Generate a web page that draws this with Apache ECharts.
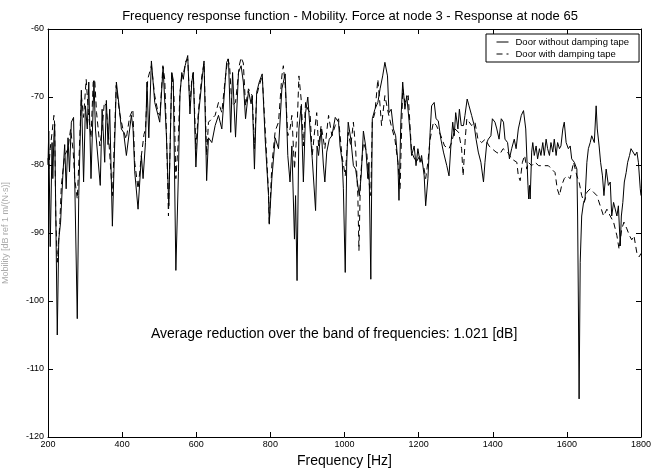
<!DOCTYPE html>
<html><head><meta charset="utf-8">
<script src="https://cdn.jsdelivr.net/npm/echarts@6/dist/echarts.min.js"></script>
<style>html,body{margin:0;padding:0;background:#fff}#c{width:652px;height:469px}</style>
</head><body><div id="c"></div>
<script>
const xTicks = [200, 400, 600, 800, 1000, 1200, 1400, 1600, 1800];
const yTicks = [-120, -110, -100, -90, -80, -70, -60];
const seriesNames = ['Door without damping tape', 'Door with damping tape'];

const solidHz = [200,202,206,211,213,216,218,225,229,234,240,245,249,254,258,263,269,279,283,290,296,301,306,310,316,324,328,341,346,353,357.5,362,366.5,373.7,378,384.5,391.7,398,404,411.5,425,429.5,434,443,452,456.5,463,467,472,479,488,497,501.5,510.5,519.5,526,534,538,545,552,556,561,565,570,577,583,588,592,599,606,615,621,628,633,642,651,660,669,678,682,687,693,698,706,714,721,727,733,741,748,751,757,763,770,778,786,795,797,804,813,822,831,840,847,853,858,865,868,872,877,883,889,895,901,907,913,917,922,926,930,937,943,947,952,959,966,975,984,988,994,997,1002,1006,1010,1017,1024,1030,1036,1040,1045,1051,1057,1063,1066,1071,1075,1082,1090,1096,1103,1109,1116,1120,1126,1132,1138,1144,1147,1152,1157,1163,1168,1172,1177,1181,1188,1193,1198,1204,1208,1215,1219,1225,1231,1235,1242,1247,1253,1260,1267,1276,1282,1287,1292,1296,1300,1306,1310,1315,1321,1325,1331,1336,1343,1350,1355,1361,1368,1375,1379,1384,1388,1395,1399,1406,1411,1417,1423,1429,1433,1440,1445,1451,1458,1463,1469,1477,1483,1489,1495,1497,1499,1501,1505,1508,1512,1517,1521,1526,1530,1535,1539,1544,1548,1553,1557,1562,1566,1571,1575,1580,1584,1589,1593,1598,1604,1609,1613,1620,1627,1629,1631,1633,1636,1640,1645,1649,1654,1658,1663,1667,1674,1679,1682,1687,1691,1696,1700,1706,1712,1717,1721,1726,1730,1735,1739,1744,1747,1751,1755,1760,1764,1769,1773,1778,1784,1789,1793,1798,1800];
const solidDb = [-80,-75,-92,-76.7,-82,-75.7,-74,-105,-91,-88.4,-81.6,-77,-83.5,-76,-81,-73.7,-73,-102.6,-84.5,-69,-82.5,-71.3,-74.7,-67.8,-82,-67.6,-74.7,-83,-71.8,-79.6,-70.5,-77,-71.8,-89,-80.6,-67.8,-71.3,-74.7,-75.2,-78.6,-72.7,-74.7,-81,-86.5,-78.6,-82,-76.7,-67.8,-76,-64.7,-70.8,-72.7,-73.7,-65.6,-75.7,-86,-66.4,-67.5,-95.5,-81,-69.8,-66.4,-67.4,-65.4,-63.9,-72.5,-67.8,-66.4,-80.3,-72.7,-67.8,-64.7,-82.3,-76,-76.7,-74.2,-72.7,-74.7,-67.8,-64.9,-64.4,-75.2,-66.4,-75.9,-66.4,-65.4,-67.8,-73.2,-69.1,-71,-69.8,-80.6,-69.3,-67.8,-66.6,-76.2,-84.5,-88.7,-82,-76,-77.6,-68.8,-66.6,-78.6,-82.5,-77.2,-90.9,-84.5,-97,-74.7,-71.3,-82.5,-72.3,-70,-74.7,-79.1,-82.5,-86.7,-77.2,-78.6,-74.7,-80,-82.5,-78.1,-76.2,-75.7,-73,-73.7,-77.2,-79.6,-83.5,-95.8,-79.6,-73.7,-76.2,-80.1,-80.6,-83,-84.5,-81.6,-75,-77.2,-82,-79.6,-96.8,-73.2,-71.8,-70.8,-68.8,-66.9,-64.9,-66.9,-72.3,-71.8,-74.7,-75.7,-79.6,-85.2,-73.7,-67.8,-71.8,-69.8,-69.6,-75.2,-78.6,-77.2,-80.1,-77.6,-79.6,-78.6,-81.6,-86,-82,-75.2,-71.3,-70.8,-73.2,-73.5,-76.2,-78.1,-80.1,-81.6,-77.2,-73.7,-75.7,-72.3,-74.7,-71.8,-74.2,-74.2,-72.7,-70.3,-71.3,-72.7,-74.2,-76.2,-78.1,-79.6,-82.5,-79.6,-76.7,-76.2,-75.7,-73.2,-73.7,-74.7,-76.2,-73.2,-73.7,-76.2,-76.7,-79.1,-77.6,-76.2,-77.6,-74.7,-72.7,-72,-74.7,-83,-85,-83,-85,-78.1,-76.7,-78.6,-77.2,-79.1,-77.6,-78.6,-76.7,-78.6,-76.2,-77.6,-78.6,-76.7,-78.1,-76.2,-78.6,-76.7,-77.6,-77.2,-74.7,-73.7,-76.7,-77.6,-77.2,-79.1,-79.6,-80.6,-87.5,-100,-114.4,-94.3,-87.5,-85.5,-85,-79.6,-77.6,-76.7,-75.7,-76.7,-71.3,-74.7,-77.2,-79.6,-81.6,-84.5,-80.6,-83,-82.5,-87.5,-85.5,-85.5,-87.5,-86,-91.9,-87.5,-85.5,-82.5,-81.1,-79.6,-78.6,-77.6,-77.4,-78.6,-78.1,-79.6,-83.5,-84.5];

const dashHz = [200,202,206,211,216,218,221,225,228,232,236,245,254,261,268,272,279,283,290,296,303,309,316,322,326,331,340,346,352,357,362,367,374,378,384,393,402,411,420,429,434,443,452,459,463,469,479,488,497,502,510,515,520,525,530,534,540,545,551,556,561,566,572,577,583,588,592,599,606,615,621,628,633,642,651,660,669,678,685,690,696,706,716,721,727,733,741,751,757,763,770,778,786,795,797,804,813,822,831,835,840,847,853,858,865,872,877,883,889,895,901,907,913,920,925,930,937,947,957,966,975,984,993,1002,1010,1017,1024,1030,1036,1039,1043,1051,1060,1066,1071,1075,1082,1090,1096,1100,1109,1118,1126,1136,1144,1150,1157,1163,1172,1181,1193,1204,1215,1219,1225,1231,1240,1248,1260,1270,1282,1289,1298,1308,1316,1320,1326,1330,1343,1352,1360,1370,1380,1390,1398,1409,1419,1428,1440,1451,1465,1469,1474,1480,1486,1492,1496,1505,1514,1524,1535,1550,1559,1568,1574,1580,1586,1593,1600,1609,1618,1627,1633,1640,1647,1654,1663,1672,1681,1690,1699,1708,1717,1726,1735,1741,1748,1754,1762,1769,1775,1781,1789,1795,1800];
const dashDb = [-79,-80.6,-77.6,-75.2,-72.7,-74,-87.5,-94.3,-92,-88.4,-83,-78.6,-77.6,-74.7,-78,-82,-85,-80,-69.8,-73,-67.4,-72.3,-76,-67.8,-67.4,-72.3,-77.2,-74.7,-70.8,-71.3,-74.7,-74.7,-84.5,-78,-68.3,-72.3,-74.7,-76.2,-73,-71.8,-79.6,-83.5,-78.6,-75.5,-74.7,-67.4,-65.4,-69.8,-72.3,-72.7,-65.4,-67.4,-76,-87.5,-76,-66.4,-70,-82,-77,-69.3,-66.9,-66.4,-64.7,-64.4,-71.3,-67.4,-66.4,-77.6,-72,-66.9,-65,-78.6,-73.7,-73.2,-72.7,-70.8,-72.3,-67.4,-64.4,-65.4,-71.3,-70.8,-65.4,-64.2,-65,-71.3,-68.8,-69.8,-77.6,-69.8,-68.3,-66.9,-74.7,-84,-88.5,-80,-75,-73.7,-66.9,-65.4,-68.3,-75.7,-74.7,-72.7,-80.6,-74.7,-66.9,-70.3,-77.2,-70.8,-71.8,-72.3,-78.6,-74.7,-72.3,-77.2,-74.2,-77.6,-72.7,-75.7,-74.2,-73.2,-78.6,-81.6,-75.2,-77.2,-73.7,-77.6,-84.5,-92.6,-82,-76.7,-78.1,-82.5,-84.5,-73.7,-72.3,-67.4,-71.3,-74.2,-69.8,-72.3,-74.2,-76.2,-79.6,-83.5,-68.8,-70.8,-69.8,-78.1,-79.6,-78.6,-80.6,-82,-79.6,-76.2,-73.7,-74.2,-75.7,-77.2,-77.6,-76.7,-74.7,-75.2,-77.6,-81.6,-76,-73.2,-74.2,-73.7,-76.2,-76.7,-76.2,-77.2,-77.6,-78.1,-78.4,-77.6,-78.1,-79.1,-79.6,-81.6,-82.3,-79.6,-78.6,-80.6,-79.6,-80.1,-79.6,-80.1,-80.1,-80.1,-80.6,-81.1,-83.5,-84.5,-83,-82,-81.6,-82,-79.6,-81.6,-82.5,-84.5,-85.5,-84,-83.5,-84,-84.5,-86,-87.5,-86.5,-87.5,-88.4,-90.4,-92.4,-89.4,-88.4,-89.4,-90.4,-91,-90.4,-93,-93.5,-93];

const titleText = 'Frequency response function - Mobility. Force at node 3 - Response at node 65';
const xName = 'Frequency [Hz]';
const yName = 'Mobility [dB ref 1 m/(N·s)]';
const noteText = 'Average reduction over the band of frequencies: 1.021 [dB]';

const FONT = 'Liberation Sans, Arial, sans-serif';
const chart = echarts.init(document.getElementById('c'), null, {renderer: 'canvas'});
const axisCommon = {
  type: 'value', min: 200, max: 1800, interval: 200,
  axisLine: {show: true, onZero: false, lineStyle: {color: '#000', width: 1}},
  axisTick: {show: true, inside: true, length: 5, lineStyle: {color: '#000'}},
  splitLine: {show: false}
};
const yCommon = {
  type: 'value', min: -120, max: -60, interval: 10,
  axisLine: {show: true, onZero: false, lineStyle: {color: '#000', width: 1}},
  axisTick: {show: true, inside: true, length: 5, lineStyle: {color: '#000'}},
  splitLine: {show: false}
};
chart.setOption({
  animation: false,
  backgroundColor: '#fff',
  title: {
    text: titleText, left: 345, top: 5, textAlign: 'center',
    textStyle: {fontFamily: FONT, fontSize: 13, fontWeight: 'normal', color: '#000'}
  },
  grid: {left: 48, right: 11, top: 29, bottom: 32, containLabel: false, outerBoundsMode: 'none'},
  legend: {
    data: seriesNames, orient: 'vertical', left: 486, top: 34,
    backgroundColor: '#fff', borderColor: '#000', borderWidth: 1,
    padding: [3, 10, 3, 10], itemGap: 2, itemWidth: 12, itemHeight: 9,
    itemStyle: {color: 'transparent', borderWidth: 0, opacity: 0},
    lineStyle: {width: 1},
    textStyle: {fontFamily: FONT, fontSize: 9.5, color: '#000', padding: [0, 0, 0, 2]}
  },
  xAxis: [
    Object.assign({}, axisCommon, {
      position: 'bottom', name: xName, nameLocation: 'middle', nameGap: 16,
      nameTextStyle: {fontFamily: FONT, fontSize: 14, color: '#000'},
      axisLabel: {fontFamily: FONT, fontSize: 9, color: '#000', margin: 3,
        formatter: v => xTicks.includes(v) ? String(v) : ''}
    }),
    Object.assign({}, axisCommon, {position: 'top', axisLabel: {show: false}})
  ],
  yAxis: [
    Object.assign({}, yCommon, {
      position: 'left', name: yName, nameLocation: 'middle', nameGap: 38, nameRotate: 90,
      nameTextStyle: {fontFamily: FONT, fontSize: 9, color: '#aaaaaa'},
      axisLabel: {fontFamily: FONT, fontSize: 9, color: '#000', margin: 4,
        formatter: v => yTicks.includes(v) ? String(v) : ''}
    }),
    Object.assign({}, yCommon, {position: 'right', axisLabel: {show: false}})
  ],
  graphic: [{
    type: 'text', left: 151, top: 327,
    style: {text: noteText, fontFamily: FONT, fontSize: 14, fill: '#000'}
  }],
  series: [
    {
      name: seriesNames[0], type: 'line', symbol: 'none', xAxisIndex: 0, yAxisIndex: 0,
      data: solidHz.map((f, i) => [f, solidDb[i]]),
      lineStyle: {color: '#000', width: 1, type: 'solid'}, itemStyle: {color: '#000'}, z: 3
    },
    {
      name: seriesNames[1], type: 'line', symbol: 'none', xAxisIndex: 0, yAxisIndex: 0,
      data: dashHz.map((f, i) => [f, dashDb[i]]),
      lineStyle: {color: '#000', width: 1, type: [6, 4]}, itemStyle: {color: '#000'}, z: 2
    }
  ]
});
</script></body></html>
